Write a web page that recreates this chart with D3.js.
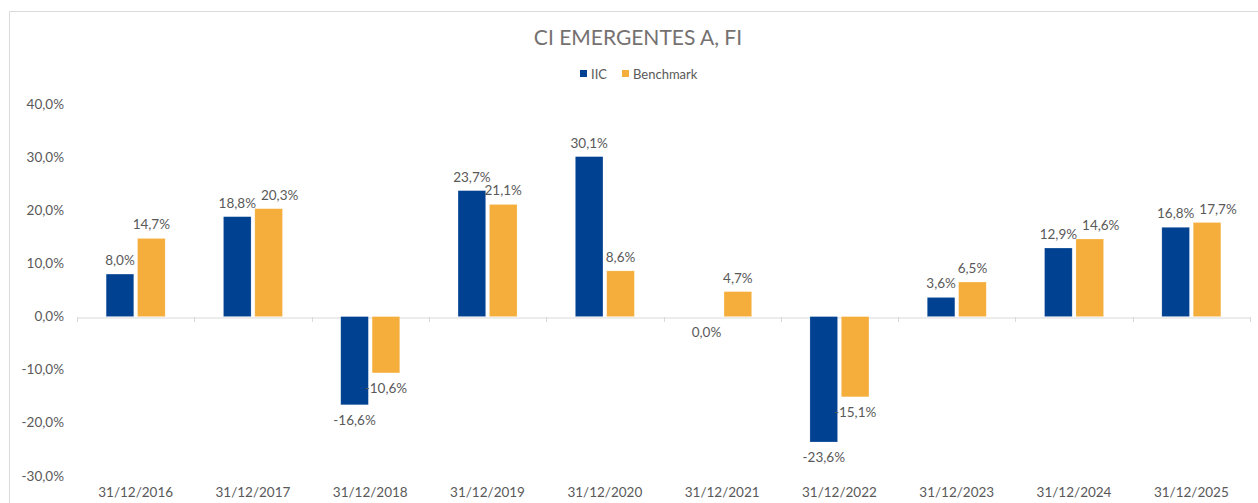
<!DOCTYPE html>
<html>
<head>
<meta charset="utf-8">
<script src="https://cdn.jsdelivr.net/npm/d3@7"></script>
<style>
  body { margin: 0; background: #fff; }
  svg { font-family: Lato, "Open Sans", sans-serif; }
</style>
</head>
<body>
<svg id="chart"></svg>
<script>
// data
const categories = ['31/12/2016', '31/12/2017', '31/12/2018', '31/12/2019', '31/12/2020',
                    '31/12/2021', '31/12/2022', '31/12/2023', '31/12/2024', '31/12/2025'];
const iic = [8.0, 18.8, -16.6, 23.7, 30.1, 0.0, -23.6, 3.6, 12.9, 16.8];
const benchmark = [14.7, 20.3, -10.6, 21.1, 8.6, 4.7, -15.1, 6.5, 14.6, 17.7];
const seriesNames = ['IIC', 'Benchmark'];
const yTicks = [-30, -20, -10, 0, 10, 20, 30, 40];

const width = 1258, height = 503;
const colors = ['#004191', '#F5AE3B'];
const fmt = v => d3.format('.1f')(v).replace('.', ',').replace('\u2212', '-') + '%';

const svg = d3.select('#chart')
    .attr('width', width)
    .attr('height', height);

// outer chart border
svg.append('path')
    .attr('d', `M9.5,${height}V11.5H${width}`)
    .attr('fill', 'none')
    .attr('stroke', '#d9d9d9');

const x = d3.scaleBand()
    .domain(categories)
    .range([77, 1250]);

const xInner = d3.scaleBand()
    .domain(seriesNames)
    .range([0, 59])
    .paddingInner(0.12);

const y = d3.scaleLinear()
    .domain([-30, 40])
    .range([476, 104]);

// title
svg.append('text')
    .attr('x', 638)
    .attr('y', 45)
    .attr('text-anchor', 'middle')
    .attr('fill', '#757171')
    .style('font-size', '21px')
    .text('CI EMERGENTES A, FI');

// legend
const legend = svg.append('g').attr('transform', 'translate(580,74)');
const legendX = [0, 42];
seriesNames.forEach((name, i) => {
    legend.append('rect')
        .attr('x', legendX[i])
        .attr('y', -4)
        .attr('width', 7)
        .attr('height', 7)
        .attr('fill', colors[i]);
    legend.append('text')
        .attr('x', legendX[i] + 11)
        .attr('y', 4.5)
        .attr('fill', '#595959')
        .style('font-size', '13px')
        .text(name);
});

// y axis labels (no axis line)
svg.append('g')
    .selectAll('text')
    .data(yTicks)
    .join('text')
    .attr('x', 64)
    .attr('y', d => y(d) + 4.5)
    .attr('text-anchor', 'end')
    .attr('fill', '#595959')
    .style('font-size', '13.5px')
    .text(d => fmt(d));

// category axis along zero
const xAxis = svg.append('g')
    .attr('transform', `translate(0,${Math.round(y(0)) + 0.5})`)
    .call(d3.axisBottom(x).tickSize(0).tickFormat(''));
xAxis.select('.domain').attr('stroke', '#d9d9d9');

svg.append('g')
    .selectAll('line')
    .data(d3.range(categories.length + 1))
    .join('line')
    .attr('x1', i => Math.round(77 + i * x.step()) + 0.5)
    .attr('x2', i => Math.round(77 + i * x.step()) + 0.5)
    .attr('y1', Math.round(y(0)))
    .attr('y2', Math.round(y(0)) + 5)
    .attr('stroke', '#d9d9d9');

// bars
const rows = categories.map((c, i) => ({ cat: c, values: [iic[i], benchmark[i]] }));
const groups = svg.append('g')
    .selectAll('g')
    .data(rows)
    .join('g')
    .attr('transform', d => `translate(${x(d.cat) + (x.bandwidth() - 59) / 2},0)`);

groups.selectAll('rect')
    .data(d => d.values.map((v, j) => ({ v, j })))
    .join('rect')
    .attr('x', d => xInner(seriesNames[d.j]))
    .attr('width', xInner.bandwidth())
    .attr('y', d => y(Math.max(0, d.v)))
    .attr('height', d => Math.abs(y(d.v) - y(0)))
    .attr('fill', d => colors[d.j])
    .attr('stroke', '#ffffff')
    .attr('stroke-opacity', 0.35)
    .attr('stroke-width', 0.6);

const labelY = v => v > 0 ? y(v) - 9 : y(v) + 20;

groups.each(function (d) {
    const g = d3.select(this);
    const labels = d.values.map((v, j) => g.append('text')
        .attr('x', xInner(seriesNames[j]) + xInner.bandwidth() / 2)
        .attr('y', labelY(v))
        .attr('text-anchor', 'middle')
        .attr('fill', '#595959')
        .style('font-size', '13.5px')
        .text(fmt(v)));
    // like the spreadsheet: push the second label right when the two would collide
    const [a, b] = labels;
    if (Math.abs(labelY(d.values[0]) - labelY(d.values[1])) < 13) {
        const aRight = +a.attr('x') + a.node().getComputedTextLength() / 2;
        const bHalf = b.node().getComputedTextLength() / 2;
        const bLeft = +b.attr('x') - bHalf;
        if (bLeft < aRight + 5) b.attr('x', aRight + 5 + bHalf);
    }
});

// category labels at bottom
svg.append('g')
    .selectAll('text')
    .data(categories)
    .join('text')
    .attr('x', d => x(d) + x.bandwidth() / 2)
    .attr('y', 497)
    .attr('text-anchor', 'middle')
    .attr('fill', '#595959')
    .style('font-size', '13.5px')
    .text(d => d);
</script>
</body>
</html>
